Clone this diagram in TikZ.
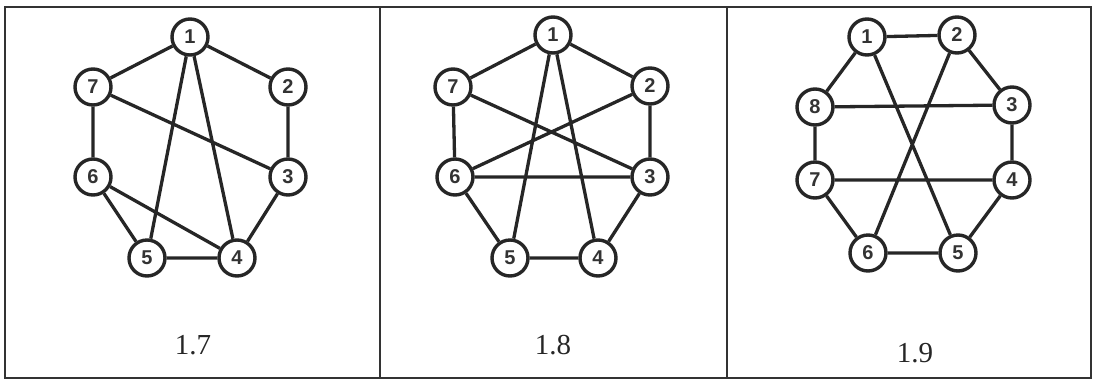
\documentclass[tikz,border=0pt]{standalone}
\usepackage{fontspec}
\setmainfont{Liberation Serif}
\newfontfamily\numfont{Liberation Sans}
\begin{document}
\begin{tikzpicture}[x=1pt,y=-1pt,
  vtx/.style={circle,draw=black!85,line width=3.4pt,fill=white,minimum size=36pt,inner sep=0pt,font=\numfont\fontsize{20}{20}\selectfont\bfseries,text=black!80},
  edge/.style={draw=black!85,line width=3.3pt},
  frame/.style={draw=black!80,line width=2.4pt},
  figlabel/.style={font=\fontsize{29}{29}\selectfont,text=black!85}]
\useasboundingbox (0,0) rectangle (1096,384);
\draw[frame] (5,7) rectangle (1091,378);
\draw[frame] (380,7) -- (380,378);
\draw[frame] (727,7) -- (727,378);
% panel 1.7
\node[vtx] (a1) at (190,37) {1};
\node[vtx] (a2) at (288,87) {2};
\node[vtx] (a3) at (288,177) {3};
\node[vtx] (a4) at (237,258) {4};
\node[vtx] (a5) at (147,258) {5};
\node[vtx] (a6) at (93,177) {6};
\node[vtx] (a7) at (93,87) {7};
\path[edge] (a1)--(a7) (a1)--(a2) (a2)--(a3) (a7)--(a6) (a7)--(a3) (a1)--(a5) (a1)--(a4) (a6)--(a5) (a6)--(a4) (a5)--(a4) (a3)--(a4);
\node[figlabel] (c1) at (193,345) {1.7};
% panel 1.8
\node[vtx] (b1) at (553,35) {1};
\node[vtx] (b2) at (650,86) {2};
\node[vtx] (b3) at (650,177) {3};
\node[vtx] (b4) at (598,258) {4};
\node[vtx] (b5) at (510,258) {5};
\node[vtx] (b6) at (455,177) {6};
\node[vtx] (b7) at (453,87) {7};
\path[edge] (b1)--(b7) (b1)--(b2) (b7)--(b6) (b2)--(b3) (b7)--(b3) (b2)--(b6) (b6)--(b3) (b1)--(b5) (b1)--(b4) (b6)--(b5) (b3)--(b4) (b5)--(b4);
\node[figlabel] (c2) at (553,345) {1.8};
% panel 1.9
\node[vtx] (d1) at (867,37) {1};
\node[vtx] (d2) at (957,35) {2};
\node[vtx] (d3) at (1012,105) {3};
\node[vtx] (d4) at (1012,180) {4};
\node[vtx] (d5) at (958,253) {5};
\node[vtx] (d6) at (868,253) {6};
\node[vtx] (d7) at (815,180) {7};
\node[vtx] (d8) at (815,107) {8};
\path[edge] (d1)--(d2) (d1)--(d8) (d2)--(d3) (d8)--(d3) (d8)--(d7) (d3)--(d4) (d7)--(d4) (d7)--(d6) (d4)--(d5) (d6)--(d5) (d1)--(d5) (d2)--(d6);
\node[figlabel] (c3) at (915,353) {1.9};
\end{tikzpicture}
\end{document}
